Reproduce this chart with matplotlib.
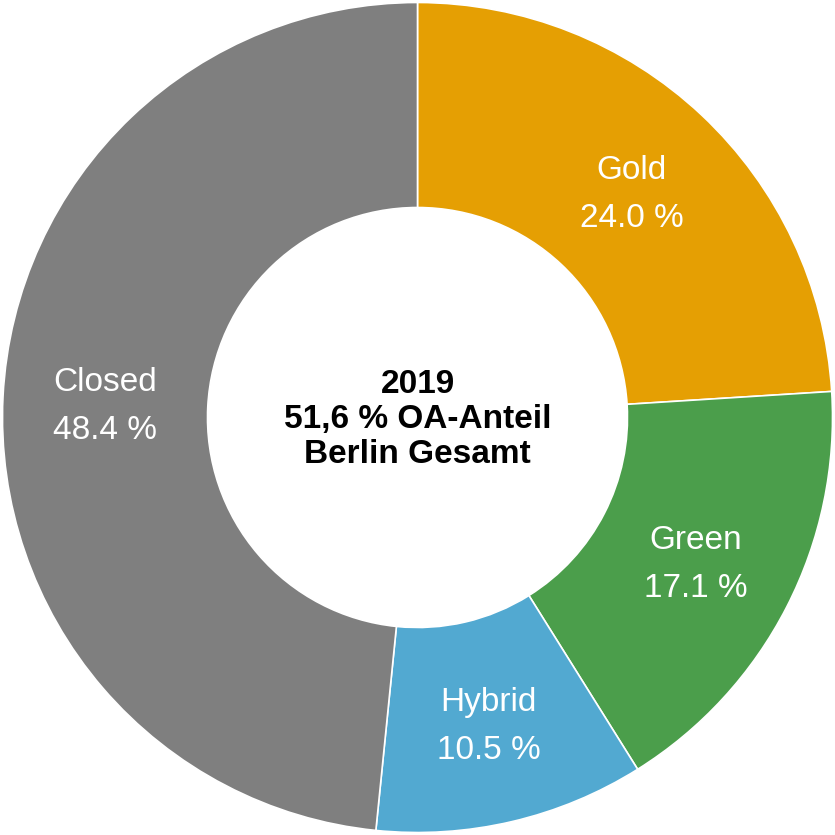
import matplotlib
matplotlib.use("Agg")
import matplotlib.pyplot as plt
import numpy as np

categories = ["Gold", "Green", "Hybrid", "Closed"]
values = [24.0, 17.1, 10.5, 48.4]
colors = ["#E59F03", "#4B9E4B", "#52A9D1", "#7F7F7F"]
center_lines = ["2019", "51,6 % OA-Anteil", "Berlin Gesamt"]

plt.rcParams['font.family'] = ['Liberation Sans', 'DejaVu Sans']

fig = plt.figure(figsize=(8.35, 8.35), dpi=100)
ax = fig.add_axes([0, 0, 1, 1])
ax.set_aspect('equal')
ax.axis('off')

width = 0.494
wedges, _ = ax.pie(values, colors=colors, startangle=90, counterclock=False,
                   radius=1.0,
                   wedgeprops=dict(width=width, edgecolor='white', linewidth=1.2))

r_lab = 1 - width / 2
for w, cat, v in zip(wedges, categories, values):
    ang = np.deg2rad((w.theta1 + w.theta2) / 2)
    x, y = r_lab * np.cos(ang), r_lab * np.sin(ang) - 0.011
    ax.text(x, y + 0.058, cat, ha='center', va='center', color='white', fontsize=24)
    ax.text(x, y - 0.058, f"{v:.1f} %", ha='center', va='center', color='white', fontsize=24)

for i, line in enumerate(center_lines):
    ax.text(0, 0.080 - i * 0.0845, line, ha='center', va='center', fontsize=24,
            fontweight='bold', color='black')

lim = 1.006
ax.set_xlim(-lim, lim)
ax.set_ylim(-lim, lim)
fig.savefig("out.png", dpi=100, facecolor='white')
